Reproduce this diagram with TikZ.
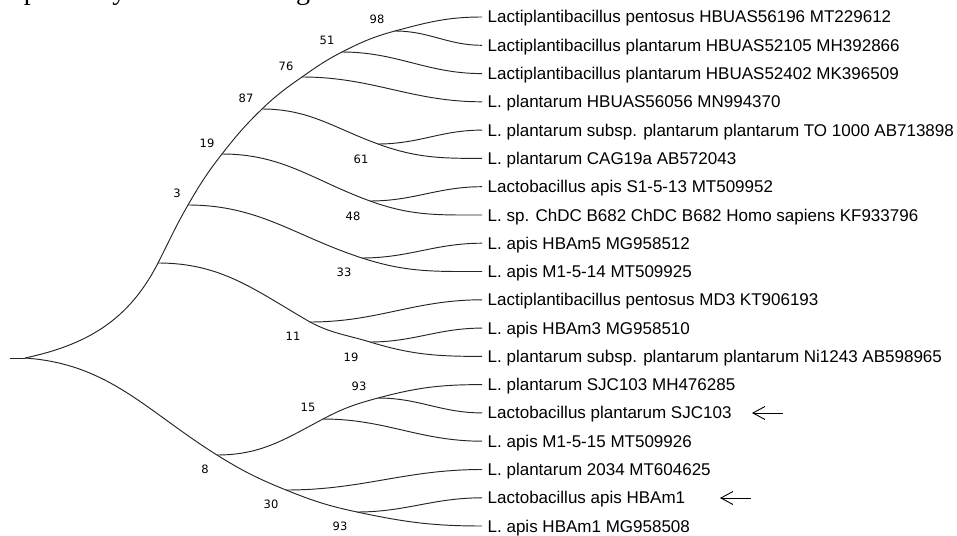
\documentclass[tikz,border=0pt]{standalone}
\usepackage{fontspec}
\setmainfont{Liberation Sans}
\newfontfamily\bootfont{DejaVu Sans}
\newfontfamily\bodyserif{Liberation Serif}
\usetikzlibrary{arrows.meta}

\begin{document}
\begin{tikzpicture}[x=1pt,y=1pt,
  branch/.style={draw=black!85, line width=0.95pt},
  leaf/.style={anchor=west, inner xsep=5.5pt, inner ysep=0pt, text height=12pt,
    text depth=0pt, font=\fontsize{17}{20}\selectfont},
  boot/.style={inner sep=0pt, font=\bootfont\fontsize{11.5}{13}\selectfont, text=black},
  pointer/.style={draw=black, line width=0.9pt, -{Straight Barb[length=12pt,width=13pt]}}
]
\useasboundingbox (0,0) rectangle (957,-535);
\clip (0,0) rectangle (957,-535);

% running text of the page above the figure (only its lowest part shows)
\node[anchor=base west, inner sep=0pt, font=\bodyserif\fontsize{28}{32}\selectfont]
  (caption) at (-9,0) {respectively as shown in Figure};

% ---------- internal nodes ----------
\coordinate (stub) at (10,-358);
\coordinate (R)    at (25,-358);
\coordinate (A)    at (158,-263);
\coordinate (B)    at (188,-205);
\coordinate (C)    at (222,-154);
\coordinate (D)    at (262,-109);
\coordinate (E)    at (302,-77);
\coordinate (F)    at (342,-52);
\coordinate (G)    at (395,-31);
\coordinate (n61)  at (378,-144);
\coordinate (n48)  at (370,-201);
\coordinate (n33)  at (362,-258);
\coordinate (n11)  at (310,-322);
\coordinate (n19)  at (370,-342);
\coordinate (H)    at (217,-455);
\coordinate (n15)  at (323,-419);
\coordinate (n93a) at (378,-398);
\coordinate (n30)  at (286,-490);
\coordinate (n93b) at (357,-512);

% ---------- taxa ----------
\node[leaf] (l1)  at (482,-17.0)  {Lactiplantibacillus pentosus HBUAS56196 MT229612};
\node[leaf] (l2)  at (482,-45.3)  {Lactiplantibacillus plantarum HBUAS52105 MH392866};
\node[leaf] (l3)  at (482,-73.6)  {Lactiplantibacillus plantarum HBUAS52402 MK396509};
\node[leaf] (l4)  at (482,-101.8) {L. plantarum HBUAS56056 MN994370};
\node[leaf] (l5)  at (482,-130.1) {L. plantarum subsp. plantarum plantarum TO 1000 AB713898};
\node[leaf] (l6)  at (482,-158.4) {L. plantarum CAG19a AB572043};
\node[leaf] (l7)  at (482,-186.7) {Lactobacillus apis S1-5-13 MT509952};
\node[leaf] (l8)  at (482,-215.0) {L. sp. ChDC B682 ChDC B682 Homo sapiens KF933796};
\node[leaf] (l9)  at (482,-243.2) {L. apis HBAm5 MG958512};
\node[leaf] (l10) at (482,-271.5) {L. apis M1-5-14 MT509925};
\node[leaf] (l11) at (482,-299.8) {Lactiplantibacillus pentosus MD3 KT906193};
\node[leaf] (l12) at (482,-328.1) {L. apis HBAm3 MG958510};
\node[leaf] (l13) at (482,-356.4) {L. plantarum subsp. plantarum plantarum Ni1243 AB598965};
\node[leaf] (l14) at (482,-384.6) {L. plantarum SJC103 MH476285};
\node[leaf] (l15) at (482,-412.9) {Lactobacillus plantarum SJC103};
\node[leaf] (l16) at (482,-441.2) {L. apis M1-5-15 MT509926};
\node[leaf] (l17) at (482,-469.5) {L. plantarum 2034 MT604625};
\node[leaf] (l18) at (482,-497.8) {Lactobacillus apis HBAm1};
\node[leaf] (l19) at (482,-526.0) {L. apis HBAm1 MG958508};

% ---------- branches ----------
\draw[branch] (stub) -- (R);
\draw[branch] (R) to[out=12,in=243] (A);
\draw[branch] (R) to[out=-4,in=148] (H);

% upper clade: backbone
\draw[branch] (A) to[out=63,in=240] (B);
\draw[branch] (B) to[out=60,in=232] (C);
\draw[branch] (C) to[out=52,in=224] (D);
\draw[branch] (D) to[out=44,in=215] (E);
\draw[branch] (E) to[out=35,in=207] (F);
\draw[branch] (F) to[out=27,in=195] (G);
\draw[branch] (G) to[out=15,in=180] (l1.west);
\draw[branch] (G) to[out=0,in=180] (l2.west);
\draw[branch] (F) to[out=0,in=180] (l3.west);
\draw[branch] (E) to[out=0,in=180] (l4.west);

% upper clade: side groups
\draw[branch] (D) to[out=0,in=160] (n61);
\draw[branch] (n61) to[out=0,in=180] (l5.west);
\draw[branch] (n61) to[out=-20,in=180] (l6.west);
\draw[branch] (C) to[out=0,in=160] (n48);
\draw[branch] (n48) to[out=0,in=180] (l7.west);
\draw[branch] (n48) to[out=-20,in=180] (l8.west);
\draw[branch] (B) to[out=0,in=162] (n33);
\draw[branch] (n33) to[out=0,in=180] (l9.west);
\draw[branch] (n33) to[out=-18,in=180] (l10.west);
\draw[branch] (A) to[out=0,in=150] (n11);
\draw[branch] (n11) to[out=0,in=180] (l11.west);
\draw[branch] (n11) to[out=-28,in=163] (n19);
\draw[branch] (n19) to[out=0,in=180] (l12.west);
\draw[branch] (n19) to[out=-17,in=180] (l13.west);

% lower clade
\draw[branch] (H) to[out=0,in=208] (n15);
\draw[branch] (n15) to[out=28,in=195] (n93a);
\draw[branch] (n93a) to[out=15,in=180] (l14.west);
\draw[branch] (n93a) to[out=0,in=180] (l15.west);
\draw[branch] (n15) to[out=0,in=180] (l16.west);
\draw[branch] (H) to[out=-32,in=158] (n30);
\draw[branch] (n30) to[out=0,in=180] (l17.west);
\draw[branch] (n30) to[out=-22,in=168] (n93b);
\draw[branch] (n93b) to[out=0,in=180] (l18.west);
\draw[branch] (n93b) to[out=-12,in=180] (l19.west);

% ---------- bootstrap values ----------
\node[boot] (b98)  at (377,-19)  {98};
\node[boot] (b51)  at (327,-40)  {51};
\node[boot] (b76)  at (286,-66)  {76};
\node[boot] (b87)  at (246,-98)  {87};
\node[boot] (b19u) at (207,-143) {19};
\node[boot] (b3)   at (177,-193) {3};
\node[boot] (b61)  at (361,-159) {61};
\node[boot] (b48)  at (353,-216) {48};
\node[boot] (b33)  at (344,-272) {33};
\node[boot] (b11)  at (293,-336) {11};
\node[boot] (b19l) at (351,-357) {19};
\node[boot] (b93u) at (359,-386) {93};
\node[boot] (b15)  at (308,-407) {15};
\node[boot] (b8)   at (205,-469) {8};
\node[boot] (b30)  at (271,-504) {30};
\node[boot] (b93l) at (340,-526) {93};

% ---------- markers for the isolates ----------
\coordinate (p1s) at (783,-413);
\coordinate (p1e) at (752,-413);
\coordinate (p2s) at (751,-498);
\coordinate (p2e) at (720,-498);
\draw[pointer] (p1s) -- (p1e);
\draw[pointer] (p2s) -- (p2e);
\end{tikzpicture}
\end{document}
